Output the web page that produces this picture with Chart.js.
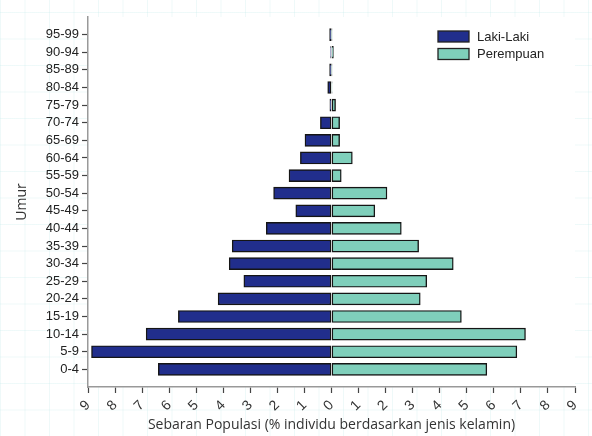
<!DOCTYPE html>
<html>
<head>
<meta charset="utf-8">
<script src="https://cdn.jsdelivr.net/npm/chart.js@4/dist/chart.umd.min.js"></script>
<style>
  html, body { margin: 0; padding: 0; }
  body {
    width: 592px; height: 436px; overflow: hidden;
    background-color: #fff;
    background-image:
      linear-gradient(to right, rgba(190, 232, 232, 0.25) 1px, transparent 1px),
      linear-gradient(to bottom, rgba(190, 232, 232, 0.25) 1px, transparent 1px);
    background-size: 24.5px 26.5px;
    background-position: 0 12px;
  }
  canvas { display: block; }
</style>
</head>
<body>
<canvas id="pyramid" width="592" height="436"></canvas>
<script>
var ageGroups = ['0-4', '5-9', '10-14', '15-19', '20-24', '25-29', '30-34', '35-39',
  '40-44', '45-49', '50-54', '55-59', '60-64', '65-69', '70-74', '75-79',
  '80-84', '85-89', '90-94', '95-99'];
var lakiLaki = [6.4, 8.87, 6.85, 5.66, 4.19, 3.24, 3.78, 3.67, 2.41, 1.32,
  2.14, 1.57, 1.15, 0.98, 0.41, 0.06, 0.14, 0.07, 0.03, 0.07];
var perempuan = [5.74, 6.85, 7.17, 4.8, 3.28, 3.52, 4.5, 3.22, 2.58, 1.6,
  2.05, 0.36, 0.77, 0.3, 0.3, 0.15, 0.02, 0.01, 0.07, 0.01];
var xTicks = [-9, -8, -7, -6, -5, -4, -3, -2, -1, 0, 1, 2, 3, 4, 5, 6, 7, 8, 9];

// white plot area over the grid paper
var plotBg = {
  id: 'plotBg',
  beforeDraw: function (chart) {
    var a = chart.chartArea, ctx = chart.ctx;
    ctx.save();
    ctx.fillStyle = '#fff';
    ctx.fillRect(a.left, a.top, a.right - a.left, a.bottom - a.top);
    ctx.restore();
  }
};

// legend drawn in the top right corner of the plot
var cornerLegend = {
  id: 'cornerLegend',
  afterDraw: function (chart) {
    var ctx = chart.ctx;
    ctx.save();
    ctx.font = '13px "Liberation Sans", Arial, sans-serif';
    ctx.textBaseline = 'middle';
    chart.data.datasets.forEach(function (ds, i) {
      var y = 31 + i * 17.5;
      ctx.fillStyle = ds.backgroundColor;
      ctx.fillRect(438, y, 31, 11);
      ctx.strokeStyle = '#222';
      ctx.lineWidth = 1.3;
      ctx.strokeRect(438, y, 31, 11);
      ctx.fillStyle = '#222';
      ctx.fillText(ds.label, 477, y + 6);
    });
    ctx.restore();
  }
};

function toPoints(values, sign) {
  return values.map(function (v, i) { return { x: sign * v, y: i }; });
}

new Chart(document.getElementById('pyramid'), {
  type: 'bar',
  data: {
    datasets: [
      {
        label: 'Laki-Laki',
        data: toPoints(lakiLaki, -1),
        backgroundColor: '#212e8c',
        borderColor: '#151515',
        borderWidth: 1.4,
        borderSkipped: false,
        barThickness: 12
      },
      {
        label: 'Perempuan',
        data: toPoints(perempuan, 1),
        backgroundColor: '#7fcfbb',
        borderColor: '#151515',
        borderWidth: 1.4,
        borderSkipped: false,
        barThickness: 12
      }
    ]
  },
  options: {
    indexAxis: 'y',
    responsive: false,
    animation: false,
    devicePixelRatio: 1,
    layout: { padding: { top: 17, right: 17, left: 14, bottom: 3 } },
    plugins: {
      legend: { display: false },
      tooltip: { enabled: false }
    },
    scales: {
      x: {
        type: 'linear',
        stacked: true,
        min: -9,
        max: 9,
        afterBuildTicks: function (scale) {
          scale.ticks = xTicks.map(function (v) { return { value: v }; });
        },
        afterFit: function (scale) { scale.height = 46; },
        ticks: {
          autoSkip: false,
          minRotation: 45,
          maxRotation: 45,
          padding: 4,
          color: '#333',
          font: { family: '"Liberation Sans", Arial, sans-serif', size: 14 },
          callback: function (v) { return Math.abs(v); }
        },
        grid: { drawOnChartArea: false, color: '#444', tickLength: 6, tickWidth: 1.2 },
        border: { color: '#999', width: 1.5 },
        title: {
          display: true,
          text: 'Sebaran Populasi (% individu berdasarkan jenis kelamin)',
          color: '#333',
          padding: { top: 0, bottom: 0 },
          font: { family: '"Open Sans", sans-serif', size: 14 }
        }
      },
      y: {
        type: 'linear',
        stacked: true,
        offset: false,
        min: -1,
        max: 20,
        afterBuildTicks: function (scale) {
          scale.ticks = ageGroups.map(function (g, i) { return { value: i }; });
        },
        afterFit: function (scale) { scale.width = 74; },
        ticks: {
          autoSkip: false,
          padding: 3,
          color: '#222',
          font: { family: '"Liberation Sans", Arial, sans-serif', size: 13 },
          callback: function (v) { return ageGroups[v]; }
        },
        grid: { offset: false, drawOnChartArea: false, color: '#444', tickLength: 6, tickWidth: 1.2 },
        border: { color: '#999', width: 1.5 },
        title: {
          display: true,
          text: 'Umur',
          color: '#333',
          padding: { top: 0, bottom: 2 },
          font: { family: '"Open Sans", sans-serif', size: 14 }
        }
      }
    }
  },
  plugins: [plotBg, cornerLegend]
});
</script>
</body>
</html>
